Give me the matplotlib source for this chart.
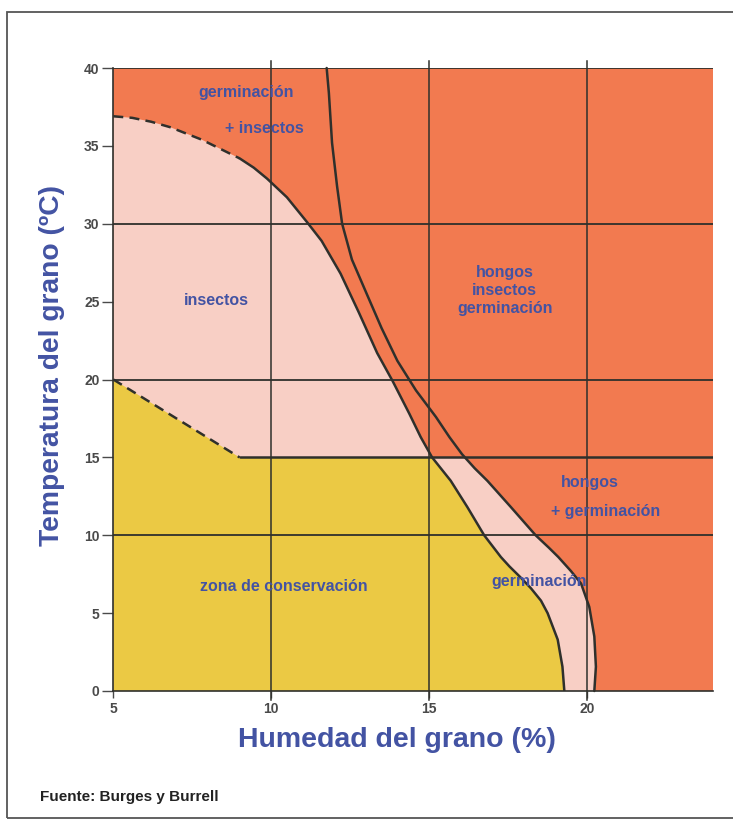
"""Zonas de almacenamiento de grano segun humedad y temperatura (Burges y Burrell)."""

import matplotlib

matplotlib.use("Agg")

import matplotlib.pyplot as plt
import numpy as np
from matplotlib import font_manager
from matplotlib.patches import Rectangle


def _pick_font(candidates):
    names = {f.name for f in font_manager.fontManager.ttflist}
    for name in candidates:
        if name in names:
            return name
    return "DejaVu Sans"


NARROW = _pick_font(["Liberation Sans Narrow", "Liberation Sans", "DejaVu Sans"])
SANS = _pick_font(["Liberation Sans", "DejaVu Sans"])

# --- data ------------------------------------------------------------------
# curve 1: upper limit of insects / limit of conservation zone (dashed part first)
curve1_dashed_x = [5.0, 5.6, 6.2, 6.8, 7.3, 7.8, 8.3, 9.0]
curve1_dashed_y = [36.9, 36.8, 36.55, 36.2, 35.8, 35.4, 34.9, 34.2]
curve1_x = [9.0, 9.45, 9.87, 10.5, 11.14, 11.6, 12.2, 12.78, 13.36, 13.85, 14.38, 14.74,
            15.1, 15.69, 16.22, 16.75, 17.28, 17.55, 17.9, 18.23, 18.55, 18.76, 19.08,
            19.23, 19.29]
curve1_y = [34.2, 33.6, 32.9, 31.7, 30.1, 28.9, 26.8, 24.3, 21.7, 19.9, 17.8, 16.3,
            15.0, 13.5, 11.8, 10.0, 8.6, 8.0, 7.3, 6.6, 5.8, 5.0, 3.3,
            1.56, 0.0]

# curve 2: limit of fungi
curve2_x = [11.76, 11.83, 11.93, 12.09, 12.25, 12.56, 13.05, 13.5, 14.0, 14.59, 15.22,
            15.65, 16.05, 16.45, 16.85, 17.6, 18.38, 18.8, 19.1, 19.5, 19.82, 20.08,
            20.24, 20.29, 20.24]
curve2_y = [40.0, 38.4, 35.2, 32.4, 30.0, 27.7, 25.4, 23.3, 21.2, 19.3, 17.6,
            16.3, 15.2, 14.3, 13.5, 11.8, 10.0, 9.2, 8.6, 7.7, 6.9, 5.4,
            3.5, 1.56, 0.0]

# lower limit of insects (dashed slope, then flat at 15 degC)
insect_low_x = [5.0, 9.0]
insect_low_y = [20.0, 15.0]
insect_floor = 15.0

x_ticks = [5, 10, 15, 20]
y_ticks = [0, 5, 10, 15, 20, 25, 30, 35, 40]
grid_x = [10, 15, 20]
grid_y = [10, 20, 30, 40]

region_labels = [
    ("germinación", 9.2, 38.4),
    ("+ insectos", 9.8, 36.1),
    ("insectos", 8.25, 25.1),
    ("hongos\ninsectos\ngerminación", 17.4, 25.7),
    ("hongos", 20.1, 13.4),
    ("+ germinación", 20.6, 11.5),
    ("germinación", 18.5, 7.0),
    ("zona de conservación", 10.4, 6.7),
]

ORANGE = "#f27a50"
PINK = "#f8cfc5"
YELLOW = "#ebc944"
LINE = "#2f302c"
BLUE = "#4353a3"
TICK = "#4a4a4a"


def _floor_crossing(xs, ys, level):
    # curves run downwards in y, so flip them for np.interp
    return float(np.interp(level, ys[::-1], xs[::-1]))


def main() -> None:
    fig = plt.figure(figsize=(7.33, 8.23), dpi=100)
    fig.patch.set_facecolor("white")

    W, H = 733, 823
    left, right, top, bottom = 113.3, 713, 68, 691
    ax = fig.add_axes([left / W, 1 - bottom / H, (right - left) / W, (bottom - top) / H])
    ax.set_xlim(5, 24)
    ax.set_ylim(0, 40)
    ax.set_facecolor(ORANGE)

    c1x = np.array(curve1_dashed_x[:-1] + curve1_x)
    c1y = np.array(curve1_dashed_y[:-1] + curve1_y)
    c2x, c2y = np.array(curve2_x), np.array(curve2_y)
    x1f = _floor_crossing(c1x, c1y, insect_floor)
    x2f = _floor_crossing(c2x, c2y, insect_floor)
    hi1 = c1y > insect_floor
    lo1 = c1y < insect_floor
    lo2 = c2y < insect_floor

    # pink: insects zone above the floor plus germination band below it
    pink_x = np.concatenate([[5.0], c2x[lo2][::-1], [x2f, x1f], c1x[hi1][::-1]])
    pink_y = np.concatenate([[0.0], c2y[lo2][::-1], [insect_floor, insect_floor], c1y[hi1][::-1]])
    ax.fill(pink_x, pink_y, color=PINK, lw=0, zorder=1)

    # yellow: conservation zone
    yel_x = np.concatenate([[5.0], c1x[lo1][::-1], [x1f], insect_low_x[::-1]])
    yel_y = np.concatenate([[0.0], c1y[lo1][::-1], [insect_floor], insect_low_y[::-1]])
    ax.fill(yel_x, yel_y, color=YELLOW, lw=0, zorder=1)

    for gx in grid_x:
        ax.plot([gx, gx], [-0.6, 40.45], color=LINE, lw=1.1, zorder=2, clip_on=False)
    for gy in grid_y:
        ax.axhline(gy, color=LINE, lw=1.3, zorder=2)

    style = dict(color=LINE, lw=1.8, zorder=3, solid_joinstyle="round", solid_capstyle="round")
    dashed = dict(color=LINE, lw=1.8, zorder=3, ls=(0, (4, 2.5)))
    ax.plot([insect_low_x[1], 24], [insect_floor, insect_floor], **style)
    ax.plot(insect_low_x, insect_low_y, **dashed)
    ax.plot(curve1_dashed_x, curve1_dashed_y, **dashed)
    ax.plot(curve1_x, curve1_y, **style)
    ax.plot(c2x, c2y, clip_on=False, **style)

    for text, x, y in region_labels:
        ax.text(x, y, text, color=BLUE, fontsize=11.5, fontweight="bold", family=SANS,
                ha="center", va="center", linespacing=1.25, zorder=4)

    for side in ("top", "right"):
        ax.spines[side].set_visible(False)
    for side in ("left", "bottom"):
        ax.spines[side].set_color(LINE)
        ax.spines[side].set_linewidth(1.2)
        ax.spines[side].set_zorder(3)

    ax.set_xticks(x_ticks)
    ax.set_yticks(y_ticks)
    ax.tick_params(axis="y", length=8, width=1, color=TICK, pad=2)
    ax.tick_params(axis="x", length=5, width=1, color=TICK, pad=3)
    for lab in ax.get_xticklabels() + ax.get_yticklabels():
        lab.set_family(NARROW)
        lab.set_fontweight("bold")
        lab.set_fontsize(10)
        lab.set_color(TICK)

    fig.text(397 / W, 1 - 740 / H, "Humedad del grano (%)", color=BLUE, fontsize=20.5,
             fontweight="bold", family=NARROW, ha="center", va="center")
    fig.text(52 / W, 1 - 366 / H, "Temperatura del grano (ºC)", color=BLUE, fontsize=20.3,
             fontweight="bold", family=NARROW, ha="center", va="center", rotation=90)
    fig.text(40 / W, 1 - 797 / H, "Fuente: Burges y Burrell", color="#222222", fontsize=11,
             fontweight="bold", family=NARROW, ha="left", va="center")

    # frame around the whole graphic (right side runs off the page)
    fig.add_artist(Rectangle((7 / W, 1 - 818 / H), 740 / W, (818 - 12) / H,
                             transform=fig.transFigure, fill=False, ec="#555555", lw=1.3))

    fig.savefig("out.png", dpi=100, facecolor="white")
    plt.close(fig)


if __name__ == "__main__":
    main()
